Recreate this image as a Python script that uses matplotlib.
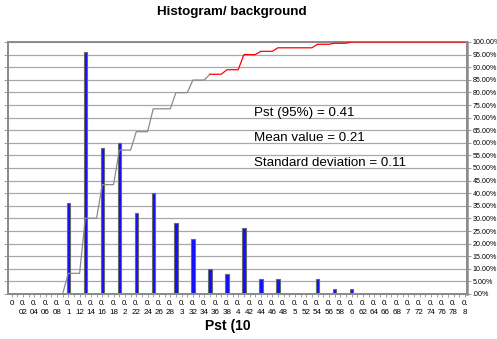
import numpy as np
import matplotlib
matplotlib.use('Agg')
from matplotlib import pyplot as plt

plt.rcParams['font.family'] = ['Liberation Sans', 'DejaVu Sans']

# histogram bins (Pst value) and counts
bin_pst = [0.10, 0.13, 0.16, 0.19, 0.22, 0.25, 0.29, 0.32, 0.35, 0.38,
           0.41, 0.44, 0.47, 0.54, 0.57, 0.60]
counts = [18, 48, 29, 30, 16, 20, 14, 11, 5, 4, 13, 3, 3, 3, 1, 1]
# cumulative frequency (%) read at each bin
cum_pct = [8.2, 30.1, 43.4, 57.1, 64.4, 73.5, 79.9, 84.9, 87.2, 89.0,
           95.0, 96.3, 97.7, 99.1, 99.5, 100.0]
red_from = 0.35

x_ticks = [round(0.02 * i, 2) for i in range(41)]
pct_ticks = list(range(0, 101, 5))

GRID = '#a8a8a8'
AXIS = '#8c8c8c'

fig = plt.figure(figsize=(4.97, 3.39), dpi=100)
ax = fig.add_axes([8 / 497, 45 / 339, 459 / 497, 252 / 339])
ax2 = ax.twinx()

# bars on primary (count) axis
ax.bar(bin_pst, counts, width=0.0058, color='#1010ff', edgecolor='#6a6a6a',
       linewidth=0.8, zorder=3)
ax.set_ylim(0, 50)
ax.set_yticks(np.arange(0, 50.1, 2.5))
ax.set_yticklabels([])
ax.yaxis.grid(True, color=GRID, linewidth=0.9)
ax.set_axisbelow(True)

# cumulative step line (sampled every 0.01)
lx = [0.0, bin_pst[0] - 0.01]
ly = [0.0, 0.0]
for i, (b, c) in enumerate(zip(bin_pst, cum_pct)):
    nxt = bin_pst[i + 1] - 0.01 if i + 1 < len(bin_pst) else 0.80
    lx += [b, nxt]
    ly += [c, c]
lx = np.array(lx)
ly = np.array(ly)
k = int(np.where(np.isclose(lx, red_from))[0][0])
ax2.plot(lx[:k + 1], ly[:k + 1], color='#8a8a8a', linewidth=0.9, zorder=4)
ax2.plot(lx[k:], ly[k:], color='#ff0000', linewidth=0.9, zorder=4)
ax2.set_ylim(0, 100)
ax2.set_yticks(pct_ticks)
ax2.set_yticklabels(['.00%' if v == 0 else f'{v:.2f}%' for v in pct_ticks],
                    fontsize=5.1)

ax.set_xlim(-0.0064, 0.8038)
ax.set_xticks(x_ticks)
ax.set_xticks(np.arange(0.01, 0.8, 0.02), minor=True)
labels = ['0' if v == 0 else '0.\n' + f'{v:.2f}'.rstrip('0')[2:] for v in x_ticks]
ax.set_xticklabels(labels, fontsize=5.8, linespacing=1.3, va='top')

for a in (ax, ax2):
    for s in a.spines.values():
        s.set_color(AXIS)
        s.set_linewidth(1.4)
ax2.spines['right'].set_linewidth(1.8)
ax.tick_params(axis='x', which='both', length=2.5, width=0.6, color=AXIS, pad=2)
ax.tick_params(axis='y', length=3, width=0.6, color=AXIS, direction='out')
ax2.tick_params(axis='y', length=3, width=0.6, color=AXIS, pad=1)

tx = (254 - 8) / 459
for y, s in [(113, 'Pst (95%) = 0.41'), (138, 'Mean value = 0.21'),
             (162.7, 'Standard deviation = 0.11')]:
    ax2.text(tx, (294 - y) / 252, s, transform=ax2.transAxes, fontsize=9.6,
             va='center', ha='left', zorder=5)

fig.text(0.467, 1 - 12 / 339, 'Histogram/ background', fontsize=9.6,
         fontweight='bold', ha='center', va='center')
fig.text(0.459, 1 - 325.7 / 339, 'Pst (10', fontsize=10, fontweight='bold',
         ha='center', va='center')

fig.savefig('out.png', dpi=100)
